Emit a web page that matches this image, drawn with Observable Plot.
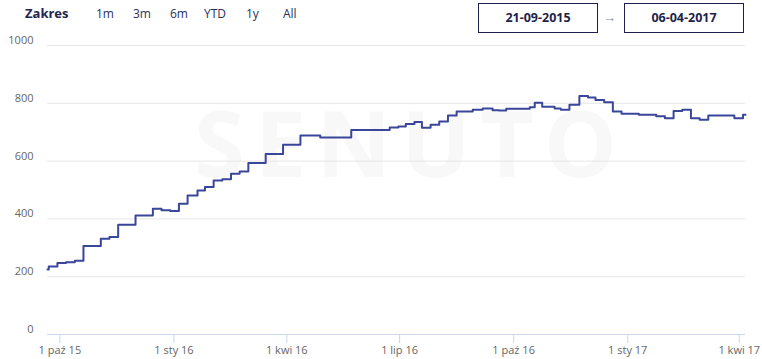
<!DOCTYPE html>
<html>
<head>
<meta charset="utf-8">
<script src="https://cdn.jsdelivr.net/npm/d3@7"></script>
<script src="https://cdn.jsdelivr.net/npm/@observablehq/plot@0.6"></script>
<style>
  html, body { margin: 0; padding: 0; background: #fff; }
  body { width: 762px; height: 359px; overflow: hidden; font-family: "Open Sans", sans-serif; }
  #header { position: relative; height: 36px; }
  #header span { position: absolute; font-size: 12px; color: #2b2f5e; line-height: 1; }
  #header .zak { font-weight: 700; font-size: 13px; color: #23244f; }
  #header .box { position: absolute; top: 3px; height: 28px; width: 118px; border: 1.5px solid #1e1f4c;
    box-sizing: content-box; font-weight: 700; font-size: 12.5px; color: #1e1f4c; text-align: center; line-height: 28px; }
  #header .arrow { color: #888; font-size: 13px; }
</style>
</head>
<body>
<div id="header">
  <span class="zak" style="left:25px;top:7px">Zakres</span>
  <span style="left:96px;top:8px">1m</span>
  <span style="left:133px;top:8px">3m</span>
  <span style="left:170px;top:8px">6m</span>
  <span style="left:204px;top:8px">YTD</span>
  <span style="left:246px;top:8px">1y</span>
  <span style="left:283px;top:8px">All</span>
  <div class="box" style="left:478px">21-09-2015</div>
  <span class="arrow" style="left:603px;top:11px">→</span>
  <div class="box" style="left:624px">06-04-2017</div>
</div>
<div id="chart"></div>
<script>
const dates = [
  "2015-09-21","2015-09-22","2015-09-29","2015-10-06","2015-10-13","2015-10-20","2015-11-03","2015-11-10",
  "2015-11-17","2015-12-01","2015-12-15","2015-12-22","2015-12-29","2016-01-05","2016-01-12","2016-01-20",
  "2016-01-26","2016-02-02","2016-02-09","2016-02-16","2016-02-23","2016-03-01","2016-03-15","2016-03-29",
  "2016-04-12","2016-04-28","2016-05-23","2016-06-23","2016-06-30","2016-07-06","2016-07-13","2016-07-19",
  "2016-07-26","2016-08-02","2016-08-09","2016-08-16","2016-08-29","2016-09-06","2016-09-14","2016-09-19",
  "2016-09-25","2016-10-14","2016-10-18","2016-10-24","2016-11-03","2016-11-08","2016-11-15","2016-11-23",
  "2016-11-30","2016-12-06","2016-12-13","2016-12-20","2016-12-27","2017-01-10","2017-01-24","2017-01-31",
  "2017-02-07","2017-02-14","2017-02-21","2017-02-28","2017-03-07","2017-03-28","2017-04-04","2017-04-06"
];
const values = [
  225,235,247,250,255,306,331,337,
  380,412,435,430,427,452,481,498,
  510,533,537,556,564,593,625,657,
  689,682,708,716,720,728,735,715,
  726,737,758,772,778,782,776,775,
  781,786,802,788,782,778,795,825,
  820,811,804,772,764,760,755,748,
  773,778,748,743,758,748,760,760
];
const yTicks = [0, 200, 400, 600, 800, 1000];
const xTickDates = ["2015-10-01","2016-01-01","2016-04-01","2016-07-01","2016-10-01","2017-01-01","2017-04-01"];
const xTickLabels = ["1 paź 15","1 sty 16","1 kwi 16","1 lip 16","1 paź 16","1 sty 17","1 kwi 17"];
const watermark = ["SENUTO"];

const data = dates.map((d, i) => ({date: new Date(d + "T00:00:00Z"), value: values[i]}));
const xTicks = xTickDates.map(d => new Date(d + "T00:00:00Z"));
const labelOf = new Map(xTicks.map((d, i) => [+d, xTickLabels[i]]));

const chart = Plot.plot({
  width: 762,
  height: 323,
  marginLeft: 47,
  marginRight: 17,
  marginTop: 9,
  marginBottom: 25,
  style: {fontFamily: "'Open Sans', sans-serif", fontSize: "11px", color: "#666", background: "#fff", overflow: "visible"},
  x: {type: "utc", domain: [new Date("2015-09-21T00:00:00Z"), new Date("2017-04-06T00:00:00Z")]},
  y: {domain: [0, 1000]},
  marks: [
    Plot.text(watermark, {frameAnchor: "middle", text: d => d, dx: 14, dy: -42, fontSize: 92, fontWeight: 700,
      fill: "#f8f8f8", fontFamily: "'Open Sans', sans-serif"}),
    Plot.ruleY(yTicks.filter(t => t > 0), {stroke: "#e6e6e6", strokeWidth: 1}),
    Plot.ruleY([0], {stroke: "#ccd6eb", strokeWidth: 1}),
    Plot.axisY(yTicks, {label: null, tickSize: 0, tickPadding: 14, dy: -5, fill: "#666", fontSize: 11, tickFormat: d => String(d)}),
    Plot.axisX(xTicks, {label: null, tickSize: 9, stroke: "#ccd6eb", tickPadding: 3, fill: "#666", fontSize: 11,
      tickFormat: d => labelOf.get(+d)}),
    Plot.line(data, {x: "date", y: "value", curve: "step-after", stroke: "#3a4699", strokeWidth: 2})
  ]
});
chart.querySelectorAll("text").forEach(t => { if (t.textContent === "SENUTO") t.setAttribute("letter-spacing", "10"); });
document.getElementById("chart").appendChild(chart);
</script>
</body>
</html>
